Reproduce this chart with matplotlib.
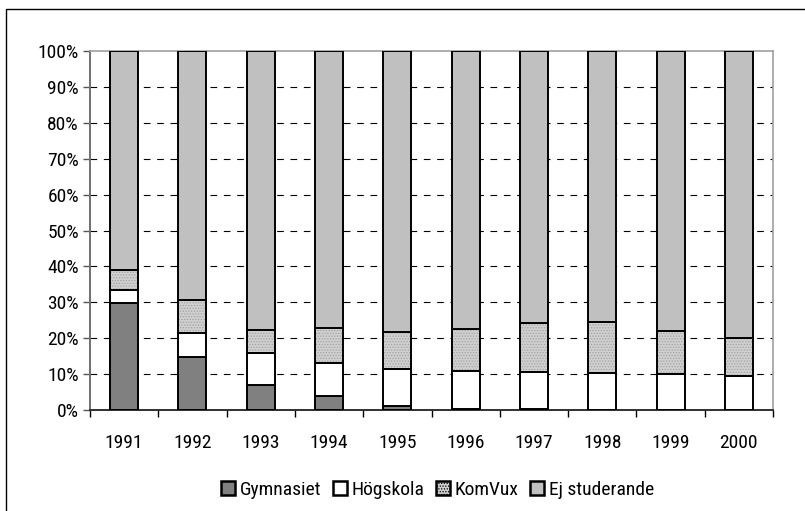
import numpy as np
import matplotlib
matplotlib.use('Agg')
import matplotlib.pyplot as plt
from matplotlib.patches import Patch, Rectangle
from matplotlib.ticker import FixedLocator, NullFormatter

plt.rcParams['font.family'] = ['Roboto Condensed', 'DejaVu Sans']
plt.rcParams['font.size'] = 14
plt.rcParams['hatch.linewidth'] = 0.6

years = ['1991', '1992', '1993', '1994', '1995', '1996', '1997', '1998', '1999', '2000']
series = ['Gymnasiet', 'Högskola', 'KomVux', 'Ej studerande']

# andelar i procent
gymnasiet = [29.9, 14.9, 7.1, 3.9, 1.1, 0.3, 0.2, 0.1, 0.1, 0.1]
hogskola = [3.6, 6.5, 8.7, 9.1, 10.2, 10.7, 10.5, 10.3, 9.8, 9.4]
komvux = [5.5, 9.2, 6.5, 9.8, 10.5, 11.7, 13.4, 14.0, 12.2, 10.5]
ej_stud = [61.0, 69.4, 77.7, 77.2, 78.2, 77.3, 75.9, 75.6, 77.9, 80.0]

fig = plt.figure(figsize=(8.05, 5.11), dpi=100)
ax = fig.add_axes([90 / 805, 1 - 410 / 511, (773 - 90) / 805, (410 - 51) / 511])

# ram runt diagramytan
fig.patches.append(Rectangle((6 / 805, -0.1), 1.2, 1 - 9 / 511 + 0.1, transform=fig.transFigure,
                             fill=False, edgecolor='black', linewidth=1.0))

x = np.arange(len(years))
w = 0.41
bottom = np.zeros(len(years))
colors = ['#808080', '#ffffff', '#d0d0d0', '#c0c0c0']
for name, vals, col in zip(series, [gymnasiet, hogskola, komvux, ej_stud], colors):
    vals = np.array(vals)
    if name == 'KomVux':
        ax.bar(x, vals, w, bottom=bottom, color=col, edgecolor='#a0a0a0', hatch='......',
               linewidth=0, zorder=3)
        ax.bar(x, vals, w, bottom=bottom, fill=False, edgecolor='black', linewidth=1.4, zorder=4)
    else:
        ax.bar(x, vals, w, bottom=bottom, color=col, edgecolor='black', linewidth=1.4, zorder=4)
    bottom += vals

ax.set_xlim(-0.5, len(years) - 0.5)
ax.set_ylim(0, 100)
ax.set_yticks(np.arange(0, 101, 10))
ax.set_yticklabels([f'{v}%' for v in range(0, 101, 10)])
ax.set_xticks(x)
ax.set_xticklabels(years)
ax.tick_params(axis='x', which='major', length=0, pad=17)
ax.xaxis.set_minor_locator(FixedLocator(np.arange(-0.5, len(years), 1)))
ax.xaxis.set_minor_formatter(NullFormatter())
ax.tick_params(axis='x', which='minor', length=5, width=1, color='black')
ax.tick_params(axis='y', length=5, width=1, color='#555555', pad=3)

for yv in range(10, 100, 10):
    ax.axhline(yv, color='black', linewidth=0.8, linestyle=(0, (6, 6)), zorder=1)

for s in ['top', 'right']:
    ax.spines[s].set_color('#a0a0a0')
    ax.spines[s].set_linewidth(1.2)
ax.spines['left'].set_color('#707070')
ax.spines['left'].set_linewidth(1.4)
ax.spines['bottom'].set_color('#303030')
ax.spines['bottom'].set_linewidth(1.4)

handles = [
    Patch(facecolor='#808080', edgecolor='black', linewidth=1.8),
    Patch(facecolor='#ffffff', edgecolor='black', linewidth=1.8),
    Patch(facecolor='#d0d0d0', edgecolor='black', linewidth=1.8, hatch='......'),
    Patch(facecolor='#c0c0c0', edgecolor='black', linewidth=1.8),
]
fig.legend(handles, series, loc='center', bbox_to_anchor=(437.5 / 805, 1 - 490 / 511), ncol=4,
           frameon=False, handlelength=0.72, handleheight=0.72, handletextpad=0.26,
           columnspacing=0.57, borderpad=0, fontsize=14)

fig.savefig('out.png', dpi=100)
